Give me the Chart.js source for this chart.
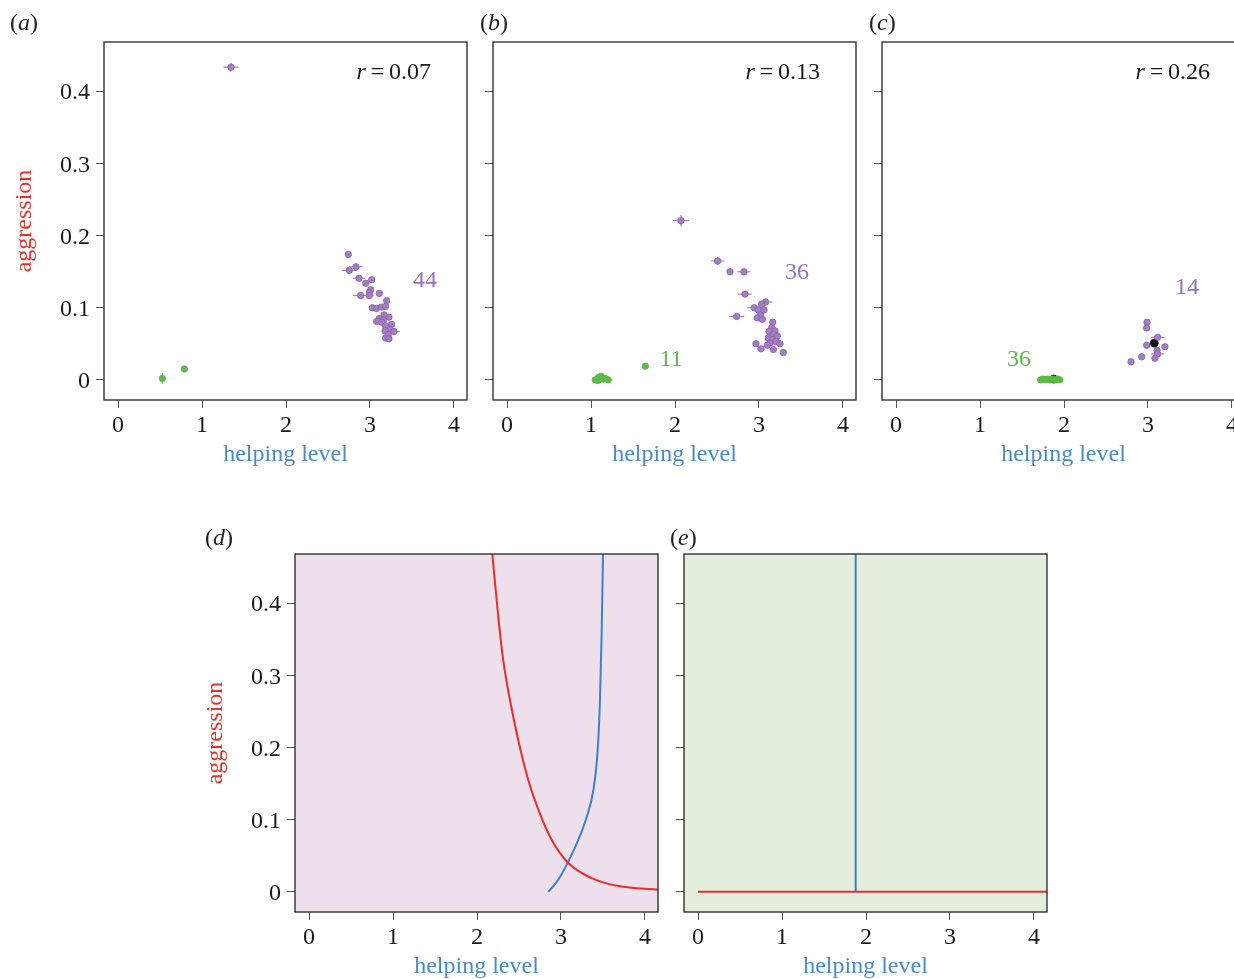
<!DOCTYPE html>
<html>
<head>
<meta charset="utf-8">
<script src="https://cdn.jsdelivr.net/npm/chart.js@4.4.0/dist/chart.umd.min.js"></script>
<style>
  html, body { margin: 0; padding: 0; background: #fff; overflow: hidden; }
  #wrap { position: relative; width: 1234px; height: 979px; overflow: hidden; }
  canvas.panel { position: absolute; }
  .tag { position: absolute; font-family: "Liberation Serif", serif; font-size: 24px; line-height: 24px; color: #222; }
</style>
</head>
<body>
<div id="wrap">
  <canvas id="pa" class="panel" width="480" height="475" style="left:0px;top:0px;width:480px;height:475px"></canvas>
  <canvas id="pb" class="panel" width="480" height="475" style="left:389px;top:0px;width:480px;height:475px"></canvas>
  <canvas id="pc" class="panel" width="480" height="475" style="left:778px;top:0px;width:480px;height:475px"></canvas>
  <canvas id="pd" class="panel" width="480" height="475" style="left:191px;top:512px;width:480px;height:475px"></canvas>
  <canvas id="pe" class="panel" width="480" height="475" style="left:580px;top:512px;width:480px;height:475px"></canvas>
  <div class="tag" style="left:10px;top:10px">(<i>a</i>)</div>
  <div class="tag" style="left:480px;top:10px">(<i>b</i>)</div>
  <div class="tag" style="left:869px;top:10px">(<i>c</i>)</div>
  <div class="tag" style="left:205px;top:525px">(<i>d</i>)</div>
  <div class="tag" style="left:670px;top:525px">(<i>e</i>)</div>
</div>
<script>
// axis ticks
const xTicks = [0, 1, 2, 3, 4];
const yTicks = [0, 0.1, 0.2, 0.3, 0.4];
const yTickLabels = ["0", "0.1", "0.2", "0.3", "0.4"];

// points: [helping, aggression, xErr, yErr]
const aPurple = [
  [1.345, 0.434, 0.09, 0.006],
  [2.742, 0.174, 0, 0], [2.833, 0.157, 0.08, 0], [2.754, 0.152, 0.09, 0],
  [2.869, 0.141, 0.07, 0], [3.020, 0.139, 0, 0], [2.949, 0.134, 0, 0],
  [3.008, 0.125, 0, 0], [2.992, 0.121, 0, 0], [3.111, 0.120, 0, 0],
  [2.889, 0.117, 0.09, 0], [2.992, 0.117, 0.05, 0], [3.198, 0.110, 0, 0],
  [3.028, 0.100, 0, 0], [3.079, 0.099, 0, 0], [3.139, 0.101, 0, 0],
  [3.186, 0.102, 0, 0], [3.167, 0.090, 0, 0], [3.111, 0.085, 0, 0],
  [3.226, 0.087, 0, 0], [3.159, 0.083, 0, 0], [3.079, 0.081, 0, 0],
  [3.139, 0.080, 0, 0], [3.258, 0.077, 0, 0], [3.186, 0.075, 0, 0],
  [3.238, 0.070, 0, 0], [3.179, 0.068, 0, 0], [3.286, 0.067, 0.07, 0],
  [3.218, 0.063, 0, 0], [3.186, 0.058, 0, 0], [3.226, 0.057, 0, 0]
];
const aGreen = [[0.528, 0.002, 0, 0.007], [0.790, 0.015, 0, 0]];

const bPurple = [
  [2.071, 0.221, 0.095, 0.008], [2.508, 0.165, 0.08, 0.006],
  [2.655, 0.150, 0, 0], [2.821, 0.150, 0.08, 0], [2.833, 0.119, 0.08, 0],
  [3.079, 0.108, 0.08, 0], [3.032, 0.105, 0, 0], [2.944, 0.100, 0.08, 0],
  [2.992, 0.097, 0, 0], [3.060, 0.097, 0, 0], [2.734, 0.088, 0.09, 0],
  [3.020, 0.090, 0, 0], [2.980, 0.086, 0, 0], [3.040, 0.084, 0, 0],
  [3.163, 0.080, 0, 0], [3.151, 0.072, 0, 0], [3.190, 0.068, 0, 0],
  [3.119, 0.067, 0, 0], [3.171, 0.063, 0, 0], [3.218, 0.061, 0, 0],
  [3.111, 0.058, 0, 0], [3.163, 0.056, 0, 0], [3.202, 0.053, 0, 0],
  [3.131, 0.051, 0, 0], [3.250, 0.050, 0, 0], [2.964, 0.050, 0, 0],
  [3.099, 0.048, 0, 0], [3.024, 0.043, 0, 0], [3.171, 0.042, 0, 0],
  [3.290, 0.038, 0, 0]
];
const bGreen = [
  [1.647, 0.019, 0, 0], [1.050, 0.000, 0, 0.004], [1.087, 0.003, 0, 0.004],
  [1.120, 0.005, 0, 0], [1.147, 0.001, 0, 0.004], [1.170, 0.002, 0, 0],
  [1.206, 0.000, 0, 0], [1.080, -0.001, 0, 0]
];

const cPurple = [
  [2.988, 0.080, 0, 0], [2.984, 0.072, 0, 0], [3.115, 0.059, 0.08, 0],
  [2.984, 0.048, 0, 0], [3.202, 0.046, 0, 0], [3.107, 0.041, 0, 0],
  [3.115, 0.036, 0.08, 0], [2.925, 0.032, 0, 0], [3.083, 0.030, 0, 0],
  [2.798, 0.025, 0, 0]
];
const cGreen = [
  [1.72, 0.000, 0, 0.004], [1.75, 0.001, 0, 0.004], [1.78, 0.000, 0, 0.004],
  [1.80, 0.001, 0, 0], [1.83, 0.000, 0, 0.004], [1.86, 0.001, 0, 0],
  [1.90, 0.000, 0, 0], [1.93, 0.001, 0, 0], [1.95, 0.000, 0, 0]
];
const cBlack = [[3.075, 0.051, 0, 0], [1.877, 0.001, 0, 0]];

// correlation and group sizes
const rValues = ["0.07", "0.13", "0.26"];
const aCounts = ["44"];
const bCounts = ["36", "11"];
const cCounts = ["14", "36"];

// isoclines in (d)
const dRedX = [2.182, 2.254, 2.313, 2.393, 2.492, 2.611, 2.730, 2.890, 3.087, 3.365, 3.682, 4.158];
const dRedY = [0.469, 0.381, 0.321, 0.266, 0.210, 0.155, 0.114, 0.072, 0.040, 0.019, 0.008, 0.003];
const dBlueX = [2.849, 2.968, 3.087, 3.206, 3.306, 3.385, 3.437, 3.464, 3.484, 3.500];
const dBlueY = [0.000, 0.017, 0.042, 0.072, 0.104, 0.141, 0.197, 0.266, 0.358, 0.469];
// isoclines in (e)
const eRedX = [0, 4.3];
const eRedY = [0, 0];
const eBlueX = [1.877, 1.877];
const eBlueY = [0, 0.5];

const SERIF = '"Liberation Serif", "Times New Roman", serif';
const FS = 24;
const PURPLE = "#a27fc2", PURPLE_EDGE = "#8a60ac", PURPLE_TXT = "#9a72b9";
const GREEN = "#5cba48", BLACK = "#141414";
const RED = "#ee2a2b", BLUE = "#3f80c7";
const TITLE_BLUE = "#4a8bd0", TITLE_RED = "#e8302c";

function toXY(arr) {
  return arr.map(p => ({ x: p[0], y: p[1] }));
}
function lineXY(xs, ys) {
  return xs.map((x, i) => ({ x: x, y: ys[i] }));
}

function pointSet(arr, fill, edge, r) {
  return {
    data: toXY(arr), raw: arr,
    backgroundColor: fill, borderColor: edge, borderWidth: 0.8,
    pointRadius: r, showLine: false
  };
}
function curveSet(xs, ys, color) {
  return {
    data: lineXY(xs, ys), showLine: true, pointRadius: 0,
    borderColor: color, borderWidth: 2, cubicInterpolationMode: "monotone"
  };
}

// error bars drawn under the dots
const errorBars = {
  id: "errorBars",
  beforeDatasetsDraw(chart) {
    const ctx = chart.ctx, xs = chart.scales.x, ys = chart.scales.y;
    ctx.save();
    ctx.lineWidth = 1.2;
    chart.data.datasets.forEach(ds => {
      if (!ds.raw) return;
      ctx.strokeStyle = ds.backgroundColor;
      ds.raw.forEach(p => {
        const px = xs.getPixelForValue(p[0]), py = ys.getPixelForValue(p[1]);
        ctx.beginPath();
        if (p[2]) {
          ctx.moveTo(xs.getPixelForValue(p[0] - p[2]), py);
          ctx.lineTo(xs.getPixelForValue(p[0] + p[2]), py);
        }
        if (p[3]) {
          ctx.moveTo(px, ys.getPixelForValue(p[1] - p[3]));
          ctx.lineTo(px, ys.getPixelForValue(p[1] + p[3]));
        }
        ctx.stroke();
      });
    });
    ctx.restore();
  }
};

function frame(bg) {
  return {
    id: "frame",
    beforeDraw(chart) {
      if (!bg) return;
      const a = chart.chartArea, ctx = chart.ctx;
      ctx.save();
      ctx.fillStyle = bg;
      ctx.fillRect(a.left, a.top, a.right - a.left, a.bottom - a.top);
      ctx.restore();
    },
    afterDraw(chart) {
      const a = chart.chartArea, ctx = chart.ctx;
      ctx.save();
      ctx.strokeStyle = "#222";
      ctx.lineWidth = 1.3;
      ctx.strokeRect(a.left, a.top, a.right - a.left, a.bottom - a.top);
      ctx.restore();
    }
  };
}

// r value and group counts, placed in data units
function notes(r, rX, counts) {
  return {
    id: "notes",
    afterDatasetsDraw(chart) {
      const ctx = chart.ctx, xs = chart.scales.x, ys = chart.scales.y;
      ctx.save();
      ctx.textBaseline = "middle";
      const rx = xs.getPixelForValue(rX), ry = ys.getPixelForValue(0.426);
      ctx.font = FS + "px " + SERIF;
      ctx.fillStyle = "#1a1a1a";
      ctx.textAlign = "right";
      const rest = "\u2009=\u2009" + r;
      ctx.fillText(rest, rx, ry);
      const w = ctx.measureText(rest).width;
      ctx.font = "italic " + FS + "px " + SERIF;
      ctx.fillText("r", rx - w, ry);
      ctx.font = FS + "px " + SERIF;
      ctx.textAlign = "center";
      counts.forEach(c => {
        ctx.fillStyle = c.color;
        ctx.fillText(c.text, xs.getPixelForValue(c.x), ys.getPixelForValue(c.y));
      });
      ctx.restore();
    }
  };
}

function makeScales(showYLabels) {
  return {
    x: {
      type: "linear", min: -0.167, max: 4.155,
      afterBuildTicks: s => { s.ticks = xTicks.map(v => ({ value: v })); },
      afterFit: s => { s.height = 75; },
      ticks: {
        callback: v => String(v), autoSkip: false, maxRotation: 0,
        color: "#1a1a1a", padding: 3, font: { family: SERIF, size: FS }
      },
      grid: { drawOnChartArea: false, drawTicks: true, tickLength: 8, color: "#555", lineWidth: 1 },
      border: { display: false },
      title: {
        display: true, text: "helping level", color: TITLE_BLUE,
        font: { family: SERIF, size: FS }, padding: { top: 0, bottom: 5.5 }
      }
    },
    y: {
      type: "linear", min: -0.028, max: 0.469,
      afterBuildTicks: s => { s.ticks = yTicks.map(v => ({ value: v })); },
      afterFit: s => { s.width = 104; },
      ticks: {
        display: showYLabels,
        callback: (v, i) => yTickLabels[i], autoSkip: false, labelOffset: 1.5,
        color: "#1a1a1a", padding: 6, font: { family: SERIF, size: FS }
      },
      grid: { drawOnChartArea: false, drawTicks: true, tickLength: 8, color: "#555", lineWidth: 1 },
      border: { display: false },
      title: {
        display: showYLabels, text: "aggression", color: TITLE_RED,
        font: { family: SERIF, size: FS }, padding: { top: 10.5, bottom: 0 }
      }
    }
  };
}

function panel(id, datasets, showY, bg, extra) {
  const plugins = [frame(bg), errorBars];
  if (extra) plugins.push(extra);
  return new Chart(document.getElementById(id), {
    type: "scatter",
    data: { datasets: datasets },
    options: {
      responsive: false, animation: false, events: [],
      layout: { padding: { top: 42, right: 13, left: 0, bottom: 0 } },
      plugins: { legend: { display: false }, tooltip: { enabled: false } },
      scales: makeScales(showY)
    },
    plugins: plugins
  });
}

panel("pa", [
  pointSet(aPurple, PURPLE, PURPLE_EDGE, 3.2),
  pointSet(aGreen, GREEN, GREEN, 3.2)
], true, null, notes(rValues[0], 3.726, [
  { text: aCounts[0], x: 3.655, y: 0.1375, color: PURPLE_TXT }
]));

panel("pb", [
  pointSet(bPurple, PURPLE, PURPLE_EDGE, 3.2),
  pointSet(bGreen, GREEN, GREEN, 3.2)
], false, null, notes(rValues[1], 3.726, [
  { text: bCounts[0], x: 3.452, y: 0.149, color: PURPLE_TXT },
  { text: bCounts[1], x: 1.952, y: 0.028, color: GREEN }
]));

panel("pc", [
  pointSet(cPurple, PURPLE, PURPLE_EDGE, 3.2),
  pointSet(cGreen, GREEN, GREEN, 3.2),
  pointSet(cBlack, BLACK, BLACK, 4)
], false, null, notes(rValues[2], 3.738, [
  { text: cCounts[0], x: 3.464, y: 0.128, color: PURPLE_TXT },
  { text: cCounts[1], x: 1.464, y: 0.028, color: GREEN }
]));

panel("pd", [
  curveSet(dRedX, dRedY, RED),
  curveSet(dBlueX, dBlueY, BLUE)
], true, "#ede0ec", null);

panel("pe", [
  curveSet(eRedX, eRedY, RED),
  curveSet(eBlueX, eBlueY, BLUE)
], false, "#e3efdc", null);
</script>
</body>
</html>
